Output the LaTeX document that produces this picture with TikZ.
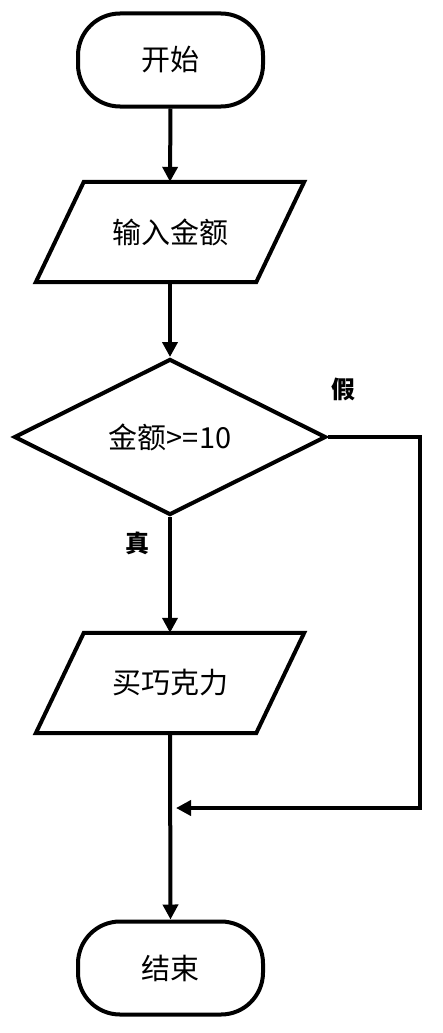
\documentclass[tikz,border=0pt]{standalone}
\usepackage{fontspec}
\setmainfont{Noto Sans CJK SC}
\usetikzlibrary{shapes.geometric,arrows.meta}
\begin{document}
\begin{tikzpicture}[x=1pt,y=-1pt,
  every node/.style={font=\fontsize{29}{33}\selectfont},
  base/.style={draw, line width=4pt, inner sep=0pt},
  term/.style={base, rectangle, rounded corners=42pt, minimum width=185pt, minimum height=93pt},
  io/.style={rectangle, inner sep=0pt, minimum width=220pt, minimum height=100pt},
  para/.style={line width=4pt, line join=miter},
  decision/.style={base, diamond, aspect=2, minimum width=312pt, minimum height=156pt},
  lbl/.style={font=\fontsize{24}{28}\selectfont\bfseries},
  conn/.style={line width=4pt, -{Triangle[length=15pt,width=15pt]}}
]
\useasboundingbox (0,0) rectangle (442,1033);
\node[term] (start) at (170.5,60) {开始};
\node[io] (in1) at (170,232) {输入金额};
\draw[para] ([xshift=24pt]in1.north west) -- ([xshift=24pt]in1.north east) -- ([xshift=-24pt]in1.south east) -- ([xshift=-24pt]in1.south west) -- cycle;
\node[decision] (dec) at (170,437) {金额>=10};
\node[io] (in2) at (170,683) {买巧克力};
\draw[para] ([xshift=24pt]in2.north west) -- ([xshift=24pt]in2.north east) -- ([xshift=-24pt]in2.south east) -- ([xshift=-24pt]in2.south west) -- cycle;
\node[term] (end) at (170.5,968) {结束};
\coordinate (corner) at (420,437);
\coordinate (merge) at (176,808);
\node[lbl] (f) at (343,389) {假};
\node[lbl] (t) at (137,543) {真};
\draw[conn] (start.south) -- (in1.north);
\draw[conn] (in1.south) -- (dec.north);
\draw[conn] (dec.south) -- (in2.north);
\draw[conn] (in2.south) -- (end.north);
\draw[conn] (dec.east) -- (corner) |- (merge);
\end{tikzpicture}
\end{document}
